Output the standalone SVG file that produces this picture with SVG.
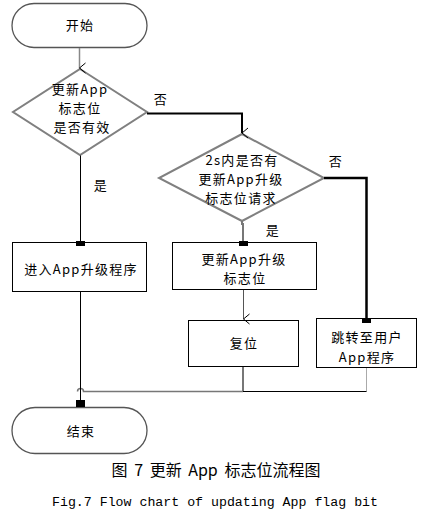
<svg xmlns="http://www.w3.org/2000/svg" width="428" height="518" viewBox="0 0 428 518">
<style>
.t{font-family:"Noto Sans CJK SC","Noto Sans",sans-serif;font-size:13px;letter-spacing:1.3px;fill:#000;text-anchor:middle}
.term{fill:#fff;stroke:#555;stroke-width:1.3}
.dia{fill:#fff;stroke:#808080;stroke-width:2}
.box{fill:#fff;stroke:#000;stroke-width:1}
.c{fill:none}
</style>
<defs>
<marker id="arr" markerUnits="userSpaceOnUse" markerWidth="12" markerHeight="10" refX="6" refY="8" orient="auto-start-reverse" viewBox="0 0 12 10">
<path d="M1,2 L6,8 L11,2" fill="none" stroke="#000" stroke-width="1"/>
</marker>
</defs>
<rect width="428" height="518" fill="#fff"/>
<g id="start">
<rect class="term" x="12" y="3.5" width="135" height="44" rx="22" ry="22"/>
<text class="t" x="80" y="30">开始</text>
</g>
<g id="decision1">
<polygon class="dia" points="80,69 147,112 80,155 13,112"/>
<text class="t" x="80" y="94">更新App</text>
<text class="t" x="80" y="113">标志位</text>
<text class="t" x="82" y="132">是否有效</text>
</g>
<g id="decision2">
<polygon class="dia" points="242,134 324,178 242,221 159,178"/>
<text class="t" x="242" y="165">2s内是否有</text>
<text class="t" x="241" y="184">更新App升级</text>
<text class="t" x="241" y="203">标志位请求</text>
</g>
<g id="enterUpgrade">
<rect class="box" x="12.5" y="242.5" width="134" height="49"/>
<text class="t" x="81" y="274">进入App升级程序</text>
</g>
<g id="updateFlag">
<rect class="box" x="172.5" y="242.5" width="144" height="47"/>
<text class="t" x="244" y="264">更新App升级</text>
<text class="t" x="245" y="283">标志位</text>
</g>
<g id="reset">
<rect class="box" x="188.5" y="320.5" width="110" height="46"/>
<text class="t" x="244" y="348">复位</text>
</g>
<g id="jumpUser">
<rect class="box" x="316.5" y="318.5" width="100" height="49"/>
<text class="t" x="367" y="342">跳转至用户</text>
<text class="t" x="367" y="362">App程序</text>
</g>
<g id="end">
<rect class="term" x="12" y="407.5" width="135" height="46" rx="23" ry="23"/>
<text class="t" x="81" y="436">结束</text>
</g>
<g id="connectors">
<path class="c" d="M79.5,48 V68" stroke="#888" stroke-width="1.5" marker-end="url(#arr)"/>
<path class="c" d="M147,113.5 H242 V133" stroke="#000" stroke-width="2" marker-end="url(#arr)"/>
<path class="c" d="M80.5,155.5 V243" stroke="#000" stroke-width="1"/>
<rect x="76" y="241" width="9" height="5" fill="#000"/>
<path class="c" d="M324,178 H366.5 V319" stroke="#000" stroke-width="2.5"/>
<rect x="362" y="318" width="9" height="5" fill="#000"/>
<path class="c" d="M242,221 V224 H243 V243" stroke="#777" stroke-width="2"/>
<rect x="239" y="241" width="9" height="5" fill="#000"/>
<path class="c" d="M243.5,290 V319" stroke="#555" stroke-width="1" marker-end="url(#arr)"/>
<path class="c" d="M243,367 V391.5" stroke="#777" stroke-width="2"/>
<path class="c" d="M366.5,368 V391.5" stroke="#aaa" stroke-width="1"/>
<path class="c" d="M366.5,391.5 H243" stroke="#000" stroke-width="1"/>
<path class="c" d="M243,391.5 H83.5 A3,3 0 0 0 77.5,391.5" stroke="#777" stroke-width="1.5"/>
<path class="c" d="M80.5,292 V406" stroke="#000" stroke-width="1"/>
<rect x="76" y="400" width="9" height="7" fill="#000"/>
</g>
<g id="labels">
<text class="t" x="161" y="104">否</text>
<text class="t" x="101" y="190">是</text>
<text class="t" x="336" y="166">否</text>
<text class="t" x="273" y="235">是</text>
</g>
<g id="caption">
<text x="216" y="476" style="font-family:'Noto Sans CJK SC',sans-serif;font-size:16px;word-spacing:3px;text-anchor:middle" xml:space="preserve">图 7 更新 App 标志位流程图</text>
<text x="215" y="506" style="font-family:'Liberation Mono',monospace;font-size:13.25px;text-anchor:middle">Fig.7 Flow chart of updating App flag bit</text>
</g>
</svg>
